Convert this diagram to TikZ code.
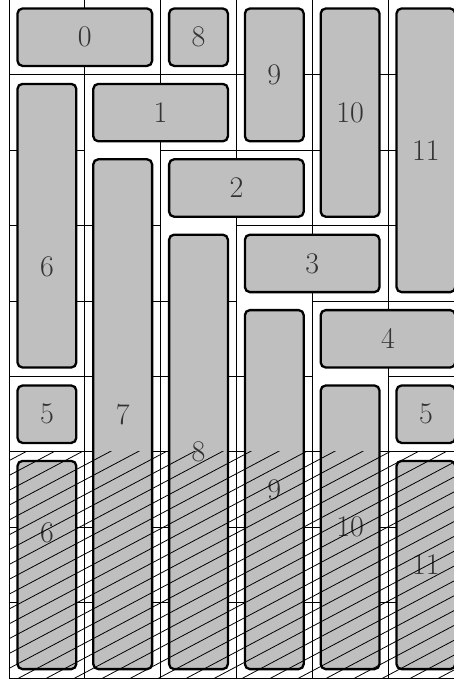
\documentclass[tikz,border=0pt]{standalone}
\usepackage{fontspec}
\begin{document}
\begin{tikzpicture}[x=1pt,y=-1pt,
  gridline/.style={line width=0.9pt,black},
  task/.style={draw=black,line width=2.3pt,fill=lightgray,rounded corners=5pt},
  tasklabel/.style={font=\fontsize{30}{31}\selectfont,text=black!80},
  hatchline/.style={line width=0.8pt,black}]
\useasboundingbox (0,0) rectangle (454,683);
\def\X#1{\fpeval{9+75.8*(#1)}}
\def\Y#1{\fpeval{-0.5+75.4*(#1)}}
% grid: vertical lines
\foreach \i in {0,...,6} {\draw[gridline] (\X{\i},\Y{0}) -- (\X{\i},\Y{9});}
% grid: horizontal lines, full ones
\foreach \j in {0,1,6,7,8,9} {\draw[gridline] (\X{0},\Y{\j}) -- (\X{6},\Y{\j});}
% horizontal lines with one cell left out (below the first cell of tasks 1--4)
\foreach \j in {2,3,4,5} {
  \draw[gridline] (\X{0},\Y{\j}) -- (\X{\j-1},\Y{\j});
  \draw[gridline] (\X{\j},\Y{\j}) -- (\X{6},\Y{\j});
}
% tasks: name, col0, row0, col1, row1, label position (row), label
\foreach \n/\ca/\ra/\cb/\rb/\ly/\t in {
  t0/0/0/2/1/0.5/0, t8a/2/0/3/1/0.5/8, t9a/3/0/4/2/1/9, t10a/4/0/5/3/1.5/10,
  t11a/5/0/6/4/2/11, t6a/0/1/1/5/3.55/6, t1/1/1/3/2/1.5/1, t7/1/2/2/9/5.5/7,
  t2/2/2/4/3/2.5/2, t8b/2/3/3/9/6/8, t3/3/3/5/4/3.5/3, t9b/3/4/4/9/6.5/9,
  t4/4/4/6/5/4.5/4, t5a/0/5/1/6/5.5/5, t10b/4/5/5/9/7/10, t5b/5/5/6/6/5.5/5,
  t6b/0/6/1/9/7.07/6, t11b/5/6/6/9/7.5/11} {
  \draw[task] ({\X{\ca}+8.5},{\Y{\ra}+9}) rectangle ({\X{\cb}-8.5},{\Y{\rb}-9});
  \node[tasklabel] (\n) at ({(\X{\ca}+\X{\cb})/2},{\Y{\ly}}) {\t};
}
% hatching of the repeated part
\begin{scope}
\clip (\X{0},\Y{6}) rectangle (\X{6},\Y{9});
\foreach \k in {-20,...,20} {
  \draw[hatchline] ({\X{0}+28*\k},{\Y{9}+20}) -- ++(500,-265);
}
\end{scope}
\end{tikzpicture}
\end{document}
